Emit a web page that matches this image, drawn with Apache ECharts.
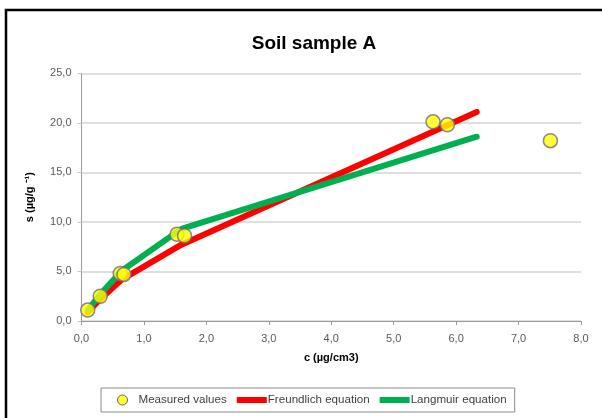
<!DOCTYPE html>
<html>
<head>
<meta charset="utf-8">
<title>Soil sample A</title>
<script src="https://cdn.jsdelivr.net/npm/echarts@6/dist/echarts.min.js"></script>
<style>
  html, body { margin: 0; padding: 0; background: #fff; }
  #chart { width: 602px; height: 418px; }
</style>
</head>
<body>
<div id="chart"></div>
<script>
// Measured sorption data: concentration c (µg/cm3) and sorbed amount s (µg/g)
const measuredC = [0.10, 0.30, 0.62, 0.68, 1.53, 1.65, 5.63, 5.86, 7.51];
const measuredS = [1.1, 2.5, 4.8, 4.7, 8.75, 8.6, 20.1, 19.8, 18.2];

// Fitted isotherm curves (evaluated at the listed concentrations)
const fitC = [0.10, 0.30, 0.65, 1.60, 6.33];
const freundlichS = [0.9, 2.2, 4.2, 7.7, 21.1];
const langmuirS = [1.1, 2.7, 5.1, 9.3, 18.6];

// Axis ranges and labels
const xMin = 0, xMax = 8, xStep = 1;
const yMin = 0, yMax = 25, yStep = 5;
const titleText = 'Soil sample A';
const xAxisName = 'c (µg/cm3)';
const yAxisName = 's (µg/g ⁻¹)';
const seriesNames = ['Measured values', 'Freundlich equation', 'Langmuir equation'];

const pairs = (xs, ys) => xs.map((x, i) => [x, ys[i]]);
const fmt = v => v.toFixed(1).replace('.', ',');

const chart = echarts.init(document.getElementById('chart'), null, { renderer: 'canvas' });

const labelColor = '#595959';
const fontFamily = '"Liberation Sans", Arial, sans-serif';
// thick bar used as the legend swatch for the fitted curves
const barIcon = 'path://M0,0 L30,0 L30,6 L0,6 Z';

chart.setOption({
  animation: false,
  backgroundColor: '#ffffff',
  textStyle: { fontFamily: fontFamily },
  title: {
    text: titleText,
    left: 309,
    top: 29,
    textAlign: 'center',
    textStyle: { fontSize: 19, fontWeight: 'bold', color: '#000', fontFamily: fontFamily }
  },
  graphic: [{
    type: 'polyline',
    shape: { points: [[6, 420], [6, 10], [610, 10]] },
    style: { stroke: '#000', lineWidth: 2.5, fill: null },
    z: 100
  }],
  grid: { left: 81.5, right: 21, top: 73.3, bottom: 97, containLabel: false },
  xAxis: {
    type: 'value',
    min: xMin, max: xMax, interval: xStep,
    name: xAxisName,
    nameLocation: 'middle',
    nameGap: 31,
    nameTextStyle: { fontSize: 11, fontWeight: 'bold', color: '#000', fontFamily: fontFamily },
    axisLine: { show: true, onZero: false, lineStyle: { color: '#9a9a9a', width: 1 } },
    axisTick: { show: true, inside: false, length: 4, lineStyle: { color: '#9a9a9a' } },
    axisLabel: { color: labelColor, fontSize: 11, margin: 12, formatter: fmt },
    splitLine: { show: false }
  },
  yAxis: {
    type: 'value',
    min: yMin, max: yMax, interval: yStep,
    name: yAxisName,
    nameLocation: 'middle',
    nameGap: 46,
    nameRotate: 90,
    nameTextStyle: { fontSize: 11, fontWeight: 'bold', color: '#000', fontFamily: fontFamily },
    axisLine: { show: true, lineStyle: { color: '#9a9a9a', width: 1 } },
    axisTick: { show: true, inside: false, length: 4, lineStyle: { color: '#c8c8c8' } },
    axisLabel: { color: labelColor, fontSize: 11, margin: 10, formatter: fmt },
    splitLine: { show: true, lineStyle: { color: '#d4d4d4', width: 1.5 } }
  },
  legend: {
    left: 101,
    top: 388,
    width: 440,
    padding: [6, 8, 6, 16],
    borderColor: '#8c8c8c',
    borderWidth: 1,
    itemGap: 10,
    itemWidth: 30,
    itemHeight: 10,
    textStyle: { fontSize: 11.6, color: '#404040', fontFamily: fontFamily, padding: [0, 0, 0, -4] },
    data: [
      { name: seriesNames[0], icon: 'circle', itemStyle: { color: '#ffff00', borderColor: '#404040', borderWidth: 1 } },
      { name: seriesNames[1], icon: barIcon, itemStyle: { color: '#ff0000' } },
      { name: seriesNames[2], icon: barIcon, itemStyle: { color: '#00b050' } }
    ]
  },
  series: [
    {
      name: seriesNames[1],
      type: 'line',
      data: pairs(fitC, freundlichS),
      symbol: 'none',
      lineStyle: { color: '#ff0000', width: 6, cap: 'round', join: 'round' },
      itemStyle: { color: '#ff0000' },
      z: 2
    },
    {
      name: seriesNames[2],
      type: 'line',
      data: pairs(fitC, langmuirS),
      symbol: 'none',
      lineStyle: { color: '#00b050', width: 6, cap: 'round', join: 'round' },
      itemStyle: { color: '#00b050' },
      z: 3
    },
    {
      name: seriesNames[0],
      type: 'scatter',
      data: pairs(measuredC, measuredS),
      symbol: 'circle',
      symbolSize: 14,
      itemStyle: { color: '#ffff00', borderColor: '#6f6a80', borderWidth: 1.5 },
      z: 4
    }
  ]
});
</script>
</body>
</html>
